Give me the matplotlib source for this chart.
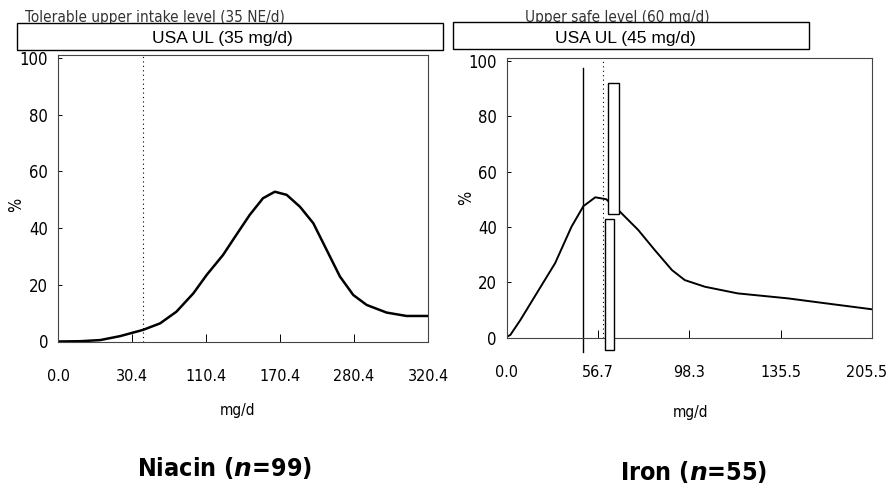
import numpy as np
import matplotlib
matplotlib.use("Agg")
import matplotlib.pyplot as plt
from matplotlib.patches import Rectangle
from matplotlib.transforms import ScaledTranslation

# niacin panel: x is tick-slot position (ticks evenly spaced), y in %
niacin_ticks = ["0.0", "30.4", "110.4", "170.4", "280.4", "320.4"]
niacin_x = [0.0, 0.30, 0.57, 0.84, 1.15, 1.38, 1.60, 1.83, 2.01, 2.23, 2.41,
            2.59, 2.77, 2.93, 3.09, 3.27, 3.45, 3.63, 3.81, 3.99, 4.17, 4.44,
            4.71, 4.96, 5.0]
niacin_y = [0.0, 0.1, 0.5, 1.9, 4.1, 6.4, 10.5, 17.0, 23.5, 30.5, 37.6,
            44.6, 50.5, 52.8, 51.7, 47.5, 41.7, 32.3, 22.9, 16.4, 12.9, 10.2,
            9.0, 9.0, 9.0]
niacin_ul = 1.15

# iron panel
iron_ticks = ["0.0", "56.7", "98.3", "135.5", "205.5"]
iron_x = [0.0, 0.04, 0.15, 0.35, 0.53, 0.71, 0.84, 0.97, 1.09, 1.24, 1.44,
          1.62, 1.81, 1.95, 2.17, 2.53, 3.08, 3.45, 3.99]
iron_y = [0.3, 1.0, 6.4, 17.2, 26.9, 40.1, 47.5, 50.7, 50.0, 45.5, 38.9,
          31.7, 24.4, 20.8, 18.4, 16.0, 14.2, 12.6, 10.3]
iron_line = 0.835
iron_ul = 1.05

yticks = [0, 20, 40, 60, 80, 100]

narrow = dict(family='DejaVu Sans', stretch='condensed')

W, H = 890, 493
fig = plt.figure(figsize=(W / 100, H / 100), dpi=100)

def px(x0, y0, x1, y1):
    return [x0 / W, 1 - y1 / H, (x1 - x0) / W, (y1 - y0) / H]

ax1 = fig.add_axes(px(58, 55, 428, 341.5))
ax2 = fig.add_axes(px(506.7, 58, 872, 337.7))

for ax, ticks in [(ax1, niacin_ticks), (ax2, iron_ticks)]:
    ax.set_xlim(0, len(ticks) - 1)
    ax.set_ylim(0, 101)
    ax.set_xticks(range(len(ticks)))
    ax.set_xticklabels(ticks, fontsize=11.5, **narrow)
    ax.set_yticks(yticks)
    ax.set_yticklabels([str(v) for v in yticks], fontsize=12, **narrow)
    ax.tick_params(axis='x', direction='in', length=6, width=0.7, pad=20)
    ax.tick_params(axis='y', direction='in', length=3, width=0.7, pad=7)
    for s in ax.spines.values():
        s.set_linewidth(0.8)
        s.set_color('#444444')

# nudge the last iron label so it stays inside the figure
last = ax2.get_xticklabels()[-1]
last.set_transform(last.get_transform() + ScaledTranslation(-0.05, 0, fig.dpi_scale_trans))

ax1.plot(niacin_x, niacin_y, color='black', lw=1.8)
ax1.axvline(niacin_ul, color='black', lw=0.8, ls=(0, (1, 3)))

ax2.plot(iron_x, iron_y, color='black', lw=1.4)
ax2.axvline(iron_ul, color='black', lw=0.8, ls=(0, (1, 3)))
ax2.plot([iron_line, iron_line], [-5.2, 97.4], color='black', lw=1.0,
         clip_on=False)
ax2.add_patch(Rectangle((1.108, 44.7), 0.121, 47.3, facecolor='white',
                        edgecolor='black', lw=1.0, clip_on=False, zorder=5))
ax2.add_patch(Rectangle((1.075, -4.4), 0.099, 47.3, facecolor='white',
                        edgecolor='black', lw=1.0, clip_on=False, zorder=5))

# faded original captions behind the banners
fig.text(25 / W, 1 - 22 / H, "Tolerable upper intake level (35 NE/d)",
         fontsize=11, color='#333333', va='baseline', **narrow)
fig.text(525 / W, 1 - 22 / H, "Upper safe level (60 mg/d)",
         fontsize=11, color='#333333', va='baseline', **narrow)

# banners
for (x0, x1, y0, y1), label, cx in [((17, 443, 23, 50), "USA UL (35 mg/d)", 222),
                                    ((453, 809, 22, 49), "USA UL (45 mg/d)", 625)]:
    fig.patches.append(Rectangle((x0 / W, 1 - y1 / H), (x1 - x0) / W,
                                 (y1 - y0) / H, transform=fig.transFigure,
                                 facecolor='white', edgecolor='black', lw=1.0,
                                 zorder=10))
    fig.text(cx / W, 1 - 39 / H, label, family=['Liberation Sans', 'DejaVu Sans'],
             fontsize=12.5, ha='center', va='center', zorder=11)

# axis labels
fig.text(16 / W, 1 - 205 / H, "%", fontsize=12, rotation=90,
         ha='center', va='center', **narrow)
fig.text(466 / W, 1 - 198 / H, "%", fontsize=12, rotation=90,
         ha='center', va='center', **narrow)
fig.text(237 / W, 1 - 410 / H, "mg/d", fontsize=11,
         ha='center', va='center', **narrow)
fig.text(690 / W, 1 - 413 / H, "mg/d", fontsize=11,
         ha='center', va='center', **narrow)

# panel titles
plt.rcParams['mathtext.fontset'] = 'custom'
plt.rcParams['mathtext.it'] = 'DejaVu Sans:italic:bold'
fig.text(225 / W, 1 - 468 / H, r"Niacin ($\mathit{n}$=99)",
         fontsize=18, fontweight='bold', ha='center', va='center', **narrow)
fig.text(694 / W, 1 - 472 / H, r"Iron ($\mathit{n}$=55)",
         fontsize=18, fontweight='bold', ha='center', va='center', **narrow)

fig.savefig("out.png", dpi=100)
